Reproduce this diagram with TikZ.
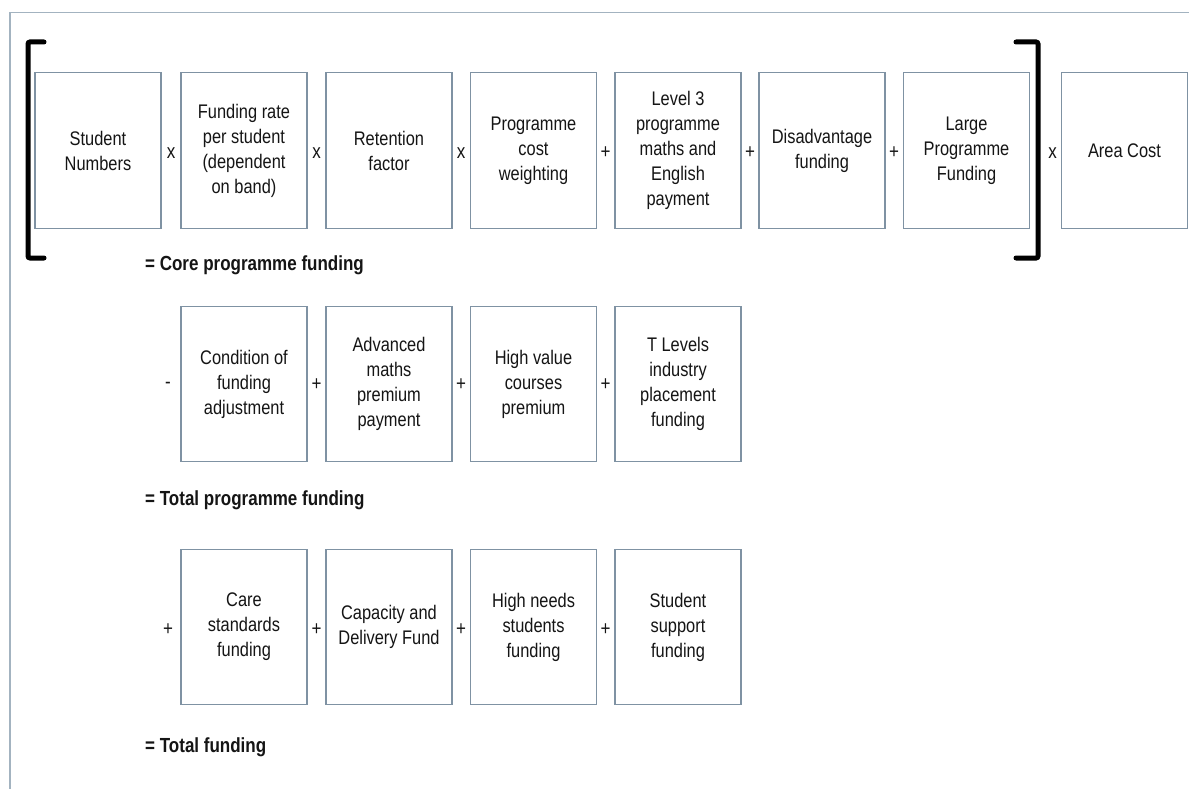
\documentclass[tikz,border=0pt]{standalone}
\usepackage{fontspec}
\setmainfont{Liberation Sans}
\definecolor{boxcol}{HTML}{7F92A3}
\definecolor{framecol}{HTML}{A3B3C0}
\definecolor{txtcol}{HTML}{151515}
\begin{document}
\begin{tikzpicture}[x=1pt,y=-1pt,
  fbox/.style={draw=boxcol, line width=1.4pt, minimum width=126pt, minimum height=129.5pt,
    inner sep=1pt, align=center, yscale=1.2, text=txtcol,
    font=\fontsize{16.4}{20.8}\selectfont},
  opnode/.style={inner sep=0pt, yscale=1.2, text=txtcol, font=\fontsize{17}{19}\selectfont},
  lab/.style={anchor=west, inner sep=0pt, yscale=1.2, text=txtcol, font=\bfseries\fontsize{17}{20}\selectfont},
  brk/.style={line width=5pt, rounded corners=2pt, line cap=round, draw=black}]
\useasboundingbox (0,0) rectangle (1189,789);
\fill[white] (0,0) rectangle (1189,789);
% frame
\draw[framecol, line width=1.8pt] (10,789) -- (10,12.5) -- (1189,12.5);
% row 1
\node[fbox] (sn) at (98,150.5) {Student\\Numbers};
\node[fbox] (fr) at (244,150.5) {Funding rate\\per student\\(dependent\\on band)};
\node[fbox] (rf) at (389,150.5) {Retention\\factor};
\node[fbox] (pc) at (533.5,150.5) {Programme\\cost\\weighting};
\node[fbox] (l3) at (678,150.5) {Level 3\\programme\\maths and\\English\\payment};
\node[fbox] (da) at (822,150.5) {Disadvantage\\funding};
\node[fbox] (lp) at (966.5,150.5) {Large\\Programme\\Funding};
\node[fbox] (ac) at (1124.5,150.5) {Area Cost};
\node[opnode] (o11) at (171,153) {x};
\node[opnode] (o12) at (316.5,153) {x};
\node[opnode] (o13) at (461,153) {x};
\node[opnode] (o14) at (605.5,153) {+};
\node[opnode] (o15) at (750,153) {+};
\node[opnode] (o16) at (894,153) {+};
\node[opnode] (o17) at (1052.5,153) {x};
% brackets
\coordinate (lbt) at (28,42);
\coordinate (lbb) at (28,258);
\coordinate (rbt) at (1038,42);
\coordinate (rbb) at (1038,258);
\draw[brk] ([xshift=16pt]lbt) -- (lbt) -- (lbb) -- ([xshift=16pt]lbb);
\draw[brk] ([xshift=-22pt]rbt) -- (rbt) -- (rbb) -- ([xshift=-22pt]rbb);
\node[lab] (core) at (145,265) {= Core programme funding};
% row 2
\node[fbox] (cf) at (244,384) {Condition of\\funding\\adjustment};
\node[fbox] (am) at (389,384) {Advanced\\maths\\premium\\payment};
\node[fbox] (hv) at (533.5,384) {High value\\courses\\premium};
\node[fbox] (tl) at (678,384) {T Levels\\industry\\placement\\funding};
\node[opnode] (o21) at (168,385) {-};
\node[opnode] (o22) at (316.5,385) {+};
\node[opnode] (o23) at (461,385) {+};
\node[opnode] (o24) at (605.5,385) {+};
\node[lab] (tpf) at (145,500) {= Total programme funding};
% row 3
\node[fbox] (cs) at (244,627) {Care\\standards\\funding};
\node[fbox] (cd) at (389,627) {Capacity and\\Delivery Fund};
\node[fbox] (hn) at (533.5,627) {High needs\\students\\funding};
\node[fbox] (ss) at (678,627) {Student\\support\\funding};
\node[opnode] (o31) at (168,630) {+};
\node[opnode] (o32) at (316.5,630) {+};
\node[opnode] (o33) at (461,630) {+};
\node[opnode] (o34) at (605.5,630) {+};
\node[lab] (tf) at (145,747) {= Total funding};
\end{tikzpicture}
\end{document}
